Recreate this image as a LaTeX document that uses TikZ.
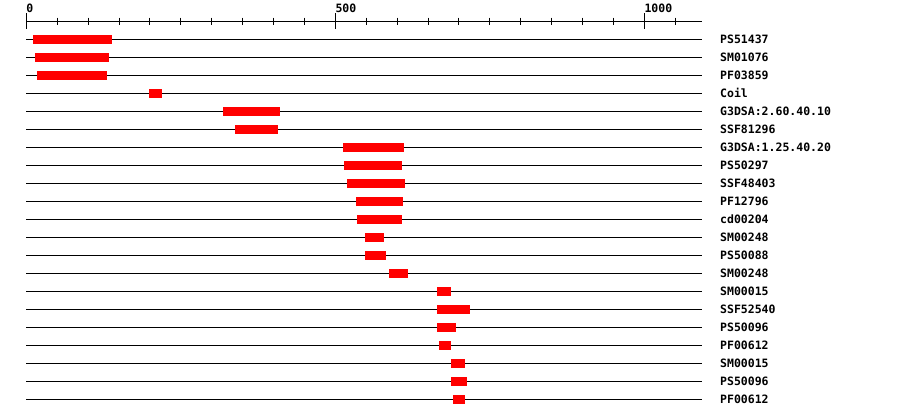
\documentclass[tikz,border=0pt]{standalone}
\usepackage{fontspec}
\newfontfamily\trackfont{DejaVu Sans Mono}

\begin{document}
\begin{tikzpicture}[x=1pt,y=-1pt,
  trackline/.style={line width=1pt},
  hit/.style={fill=red,draw=none},
  tracklabel/.style={anchor=base west,inner sep=0pt,font=\trackfont\bfseries\fontsize{11.5}{12}\selectfont},
  ticklabel/.style={anchor=base west,inner sep=0pt,font=\trackfont\bfseries\fontsize{11.5}{12}\selectfont}]
  \useasboundingbox[fill=white] (0,0) rectangle (900,418);
  \begin{scope}[shift={(26.3,0)},x=0.618pt]
    % scale
    \draw[trackline] (0,21) -- (1093,21);
    \foreach \t in {50,100,...,1050}
      \draw[trackline] (\t,17.5) -- (\t,24.5);
    \foreach \t in {0,500,1000} {
      \draw[trackline] (\t,13) -- (\t,29);
      \node[ticklabel] (tick\t) at (\t,12) {\t};
    }
    % tracks
    \foreach \name/\a/\b [count=\i from 0] in {
        PS51437/11/139, SM01076/14/134, PF03859/17/131, Coil/199/220,
        G3DSA:2.60.40.10/318/410, SSF81296/338/407, G3DSA:1.25.40.20/512/611,
        PS50297/514/608, SSF48403/519/613, PF12796/533/610, cd00204/535/608,
        SM00248/548/579, PS50088/548/582, SM00248/587/618, SM00015/665/688,
        SSF52540/665/718, PS50096/665/695, PF00612/668/688, SM00015/688/710,
        PS50096/688/713, PF00612/691/710} {
      \draw[trackline] (0,39.3+18*\i) -- (1093,39.3+18*\i);
      \fill[hit] (\a,39.3+18*\i-4.6) rectangle (\b,39.3+18*\i+4.6);
      \node[tracklabel] (lab\i) at (1122.5,43+18*\i) {\name};
    }
  \end{scope}
\end{tikzpicture}
\end{document}
